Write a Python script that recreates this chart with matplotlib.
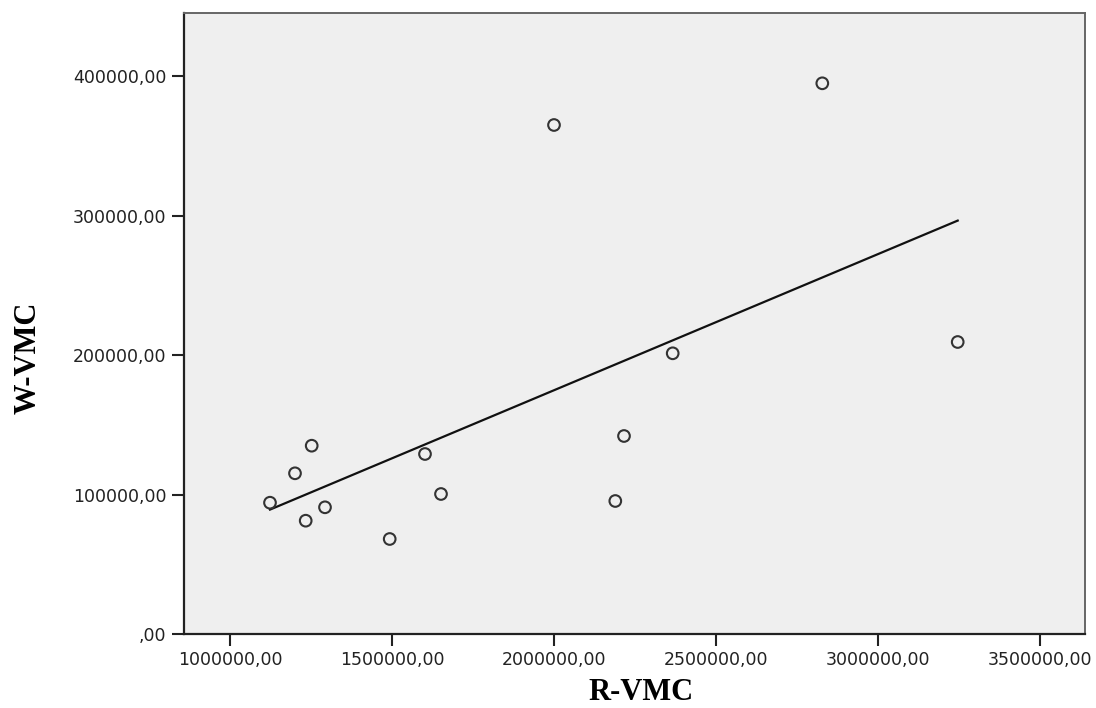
import matplotlib
matplotlib.use('Agg')
import matplotlib.pyplot as plt
import numpy as np
from matplotlib.ticker import FuncFormatter

# R-VMC vs W-VMC values
r_vmc = [1123457, 1200617, 1252160, 1233642, 1293210, 1492901, 1601852,
         1651235, 2366358, 3245988, 2216049, 2189198, 2000000, 2828086]
w_vmc = [94122, 115197, 134982, 81219, 90824, 68100, 129032,
         100358, 201219, 209319, 141935, 95341, 364875, 394767]

x_ticks = [1000000, 1500000, 2000000, 2500000, 3000000, 3500000]
y_ticks = [0, 100000, 200000, 300000, 400000]


def comma_fmt(v, pos=None):
    s = f'{v:.2f}'.replace('.', ',')
    return s[1:] if s.startswith('0,') else s


fig = plt.figure(figsize=(10.96, 7.08), dpi=100)
ax = fig.add_axes([184 / 1096, 1 - 634 / 708, (1085 - 184) / 1096, (634 - 12.5) / 708])
ax.set_facecolor('#efefef')

ax.scatter(r_vmc, w_vmc, s=70, facecolors='none', edgecolors='#333333',
           linewidths=1.5, zorder=3)

# least squares fit line across the data range
x = np.array(r_vmc, dtype=float)
y = np.array(w_vmc, dtype=float)
k, b = np.polyfit(x, y, 1)
xs = np.array([x.min(), x.max()])
ax.plot(xs, k * xs + b, color='#111111', lw=1.6, zorder=2)

ax.set_xlim(858025, 3638889)
ax.set_ylim(0, 445520)
ax.set_xticks(x_ticks)
ax.set_yticks(y_ticks)
ax.xaxis.set_major_formatter(FuncFormatter(comma_fmt))
ax.yaxis.set_major_formatter(FuncFormatter(comma_fmt))
ax.tick_params(length=8.5, width=1.5, color='#222222', labelsize=12.5,
               labelcolor='#222222', pad=4)

for side in ['left', 'bottom']:
    ax.spines[side].set_color('#222222')
    ax.spines[side].set_linewidth(1.6)
for side in ['top', 'right']:
    ax.spines[side].set_color('#666666')
    ax.spines[side].set_linewidth(1.4)

fig.text(641 / 1096, 1 - 700 / 708, 'R-VMC', ha='center', va='baseline',
         fontfamily='Liberation Serif', fontweight='bold', fontsize=22)
fig.text(28 / 1096, 1 - 358 / 708, 'W-VMC', ha='center', va='center',
         rotation=90, fontfamily='Liberation Serif', fontweight='bold',
         fontsize=22)

fig.savefig('out.png', dpi=100)
